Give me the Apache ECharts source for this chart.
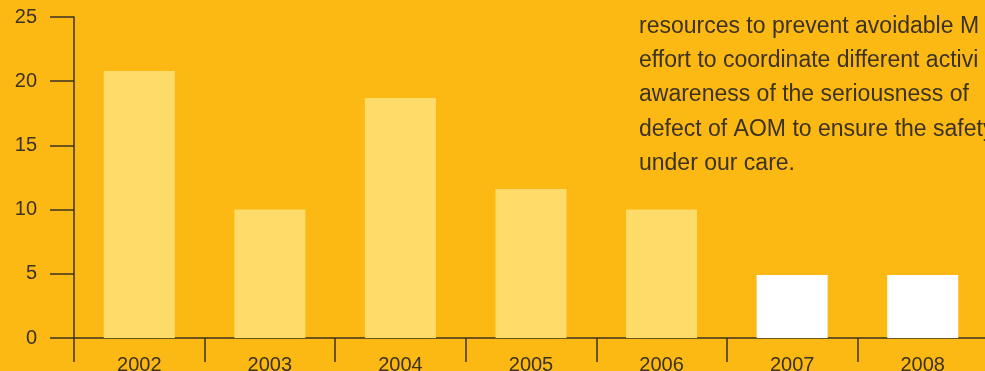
<!DOCTYPE html>
<html><head><meta charset="utf-8">
<script src="https://cdn.jsdelivr.net/npm/echarts@6/dist/echarts.min.js"></script>
<style>html,body{margin:0;padding:0;background:#FDB913;}#c{width:985px;height:371px;}</style>
</head><body><div id="c"></div>
<script>
const categories = ['2002','2003','2004','2005','2006','2007','2008'];
const values = [20.8, 10, 18.7, 11.6, 10, 4.9, 4.9];
const barColors = ['#FFDC6A','#FFDC6A','#FFDC6A','#FFDC6A','#FFDC6A','#FFFFFF','#FFFFFF'];
const yTicks = [0, 5, 10, 15, 20, 25];
const textLines = [
  'resources to prevent avoidable M',
  'effort to coordinate different activi',
  'awareness of the seriousness of',
  'defect of AOM to ensure the safety',
  'under our care.'
];
const ink = '#3b3222';
const chart = echarts.init(document.getElementById('c'), null, {renderer:'canvas'});
chart.setOption({
  backgroundColor: '#FDB913',
  animation: false,
  grid: {left: 74, top: 17, bottom: 33, right: -3, containLabel: false, outerBoundsMode: 'none'},
  xAxis: {
    type: 'category', data: categories,
    axisLine: {show: true, lineStyle: {color: ink, width: 1.5}},
    axisTick: {show: true, length: 24, lineStyle: {color: ink, width: 1.5}},
    axisLabel: {color: ink, fontSize: 20, fontFamily: 'Liberation Sans', margin: 17}
  },
  yAxis: {
    type: 'value', min: yTicks[0], max: yTicks[yTicks.length-1], interval: 5,
    axisLine: {show: true, lineStyle: {color: ink, width: 1.5}},
    axisTick: {show: true, length: 24, lineStyle: {color: ink, width: 1.5}},
    splitLine: {show: false},
    axisLabel: {color: ink, fontSize: 20, fontFamily: 'Liberation Sans', margin: 37}
  },
  series: [{
    type: 'bar', barWidth: 71,
    data: values.map((v,i)=>({value: v, itemStyle: {color: barColors[i]}}))
  }],
  graphic: textLines.map((t,i)=>({
    type: 'text', left: 639, top: 15 + i*34.3, z: 10,
    style: {text: t, fill: ink, fontSize: 23, fontFamily: 'Liberation Sans'}
  }))
});
</script></body></html>
